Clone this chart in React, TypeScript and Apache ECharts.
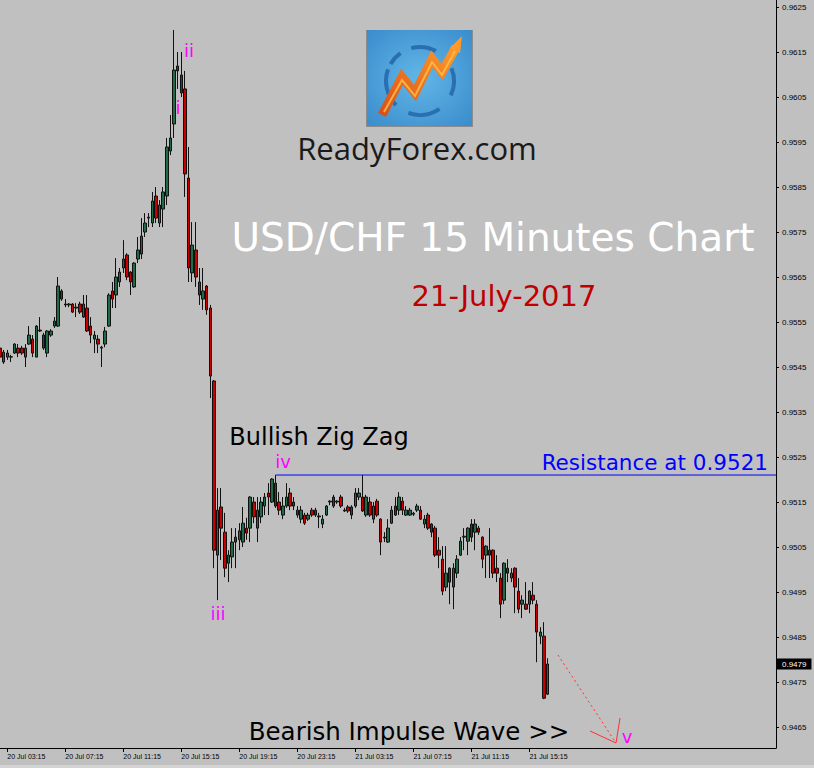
import React, { useEffect, useRef } from "react";
import * as echarts from "echarts";

// ---- categories (15-minute bars starting 20 Jul 02:45) ----
const START_DAY = 20;
const START_MIN = 2 * 60 + 45;
const BAR_MIN = 15;
const TOTAL_SLOTS = 215;
const CATEGORIES: string[] = Array.from({ length: TOTAL_SLOTS }, (_, i) => {
  const t = START_MIN + BAR_MIN * i;
  const day = START_DAY + Math.floor(t / 1440);
  const m = t % 1440;
  const hh = String(Math.floor(m / 60)).padStart(2, "0");
  const mm = String(m % 60).padStart(2, "0");
  return `${day} Jul ${hh}:${mm}`;
});

const X_TICK_LABELS = [
  "20 Jul 03:15", "20 Jul 07:15", "20 Jul 11:15", "20 Jul 15:15", "20 Jul 19:15",
  "20 Jul 23:15", "21 Jul 03:15", "21 Jul 07:15", "21 Jul 11:15", "21 Jul 15:15",
];

const Y_TICK_VALUES = [
  0.9465, 0.9475, 0.9485, 0.9495, 0.9505, 0.9515, 0.9525, 0.9535, 0.9545,
  0.9555, 0.9565, 0.9575, 0.9585, 0.9595, 0.9605, 0.9615, 0.9625,
];
const Y_MIN = 0.946034;
const Y_MAX = 0.962656;

const RESISTANCE = 0.9521;
const RESISTANCE_START = "20 Jul 21:45";
const LAST_PRICE = 0.9479;

// ---- OHLC: [open, close, low, high] ----
const CANDLES: number[][] = [
  [0.95492, 0.95472, 0.95466, 0.95497],
  [0.95461, 0.95483, 0.95457, 0.95488],
  [0.95472, 0.95481, 0.95466, 0.95488],
  [0.95472, 0.95473, 0.95461, 0.95477],
  [0.95481, 0.95501, 0.95479, 0.95503],
  [0.95492, 0.95481, 0.95472, 0.95501],
  [0.95492, 0.95481, 0.95477, 0.95497],
  [0.95472, 0.95492, 0.9545, 0.95501],
  [0.95501, 0.95521, 0.95499, 0.95541],
  [0.95512, 0.95481, 0.95472, 0.95521],
  [0.95472, 0.95541, 0.95472, 0.95543],
  [0.95532, 0.9553, 0.95528, 0.95561],
  [0.95521, 0.95492, 0.95488, 0.95526],
  [0.95481, 0.9553, 0.95472, 0.95532],
  [0.95521, 0.9553, 0.95517, 0.95534],
  [0.95541, 0.95552, 0.95537, 0.95561],
  [0.95541, 0.9563, 0.95539, 0.9565],
  [0.95619, 0.95601, 0.95597, 0.95623],
  [0.9559, 0.95588, 0.95583, 0.95601],
  [0.95588, 0.9559, 0.95583, 0.95592],
  [0.9559, 0.95572, 0.9557, 0.95592],
  [0.95583, 0.95581, 0.95561, 0.95592],
  [0.9559, 0.95572, 0.95568, 0.95595],
  [0.95561, 0.9559, 0.95559, 0.9561],
  [0.95581, 0.9553, 0.95528, 0.9561],
  [0.95541, 0.95521, 0.95503, 0.95561],
  [0.95512, 0.95521, 0.95481, 0.9553],
  [0.95512, 0.95501, 0.95481, 0.95521],
  [0.95492, 0.95494, 0.9545, 0.95497],
  [0.95501, 0.9553, 0.95494, 0.95539],
  [0.95541, 0.9561, 0.95539, 0.95614],
  [0.95619, 0.95601, 0.95581, 0.95639],
  [0.9561, 0.9565, 0.95581, 0.95692],
  [0.95639, 0.95661, 0.95628, 0.9567],
  [0.9567, 0.9569, 0.95659, 0.95732],
  [0.95699, 0.9565, 0.95643, 0.95703],
  [0.95661, 0.95639, 0.9561, 0.95663],
  [0.95628, 0.95681, 0.95626, 0.95683],
  [0.9569, 0.9571, 0.95681, 0.95739],
  [0.95701, 0.95741, 0.9569, 0.95781],
  [0.9575, 0.9577, 0.95739, 0.95792],
  [0.95781, 0.95783, 0.95761, 0.95792],
  [0.9577, 0.95819, 0.95761, 0.95839],
  [0.9583, 0.95781, 0.9577, 0.9585],
  [0.9577, 0.9581, 0.95761, 0.95821],
  [0.95801, 0.95839, 0.95761, 0.9585],
  [0.9583, 0.95939, 0.9581, 0.95959],
  [0.9593, 0.95959, 0.95921, 0.9601],
  [0.9599, 0.9611, 0.95959, 0.96199],
  [0.96119, 0.96108, 0.96068, 0.9615],
  [0.96099, 0.96059, 0.9605, 0.9615],
  [0.96068, 0.95879, 0.95828, 0.96108],
  [0.9587, 0.9567, 0.95639, 0.95939],
  [0.95659, 0.95721, 0.95639, 0.95772],
  [0.9571, 0.9565, 0.95628, 0.95772],
  [0.95639, 0.9561, 0.95588, 0.9567],
  [0.95601, 0.95619, 0.95577, 0.9567],
  [0.9563, 0.95577, 0.95566, 0.95632],
  [0.95581, 0.9543, 0.95381, 0.95588],
  [0.95419, 0.95043, 0.95003, 0.95421],
  [0.95032, 0.95132, 0.94932, 0.95181],
  [0.95139, 0.95092, 0.95021, 0.95181],
  [0.95083, 0.95003, 0.94983, 0.95126],
  [0.95014, 0.95032, 0.94972, 0.95043],
  [0.95028, 0.95061, 0.95003, 0.95092],
  [0.95072, 0.95061, 0.95003, 0.95092],
  [0.95066, 0.95086, 0.95043, 0.95103],
  [0.95061, 0.95103, 0.9505, 0.95139],
  [0.95092, 0.95081, 0.95066, 0.95115],
  [0.95092, 0.95161, 0.95061, 0.95163],
  [0.9515, 0.95117, 0.95103, 0.95161],
  [0.95092, 0.95132, 0.95061, 0.95161],
  [0.95117, 0.9515, 0.95103, 0.95161],
  [0.95141, 0.95161, 0.95121, 0.9517],
  [0.9517, 0.95161, 0.95121, 0.95192],
  [0.9515, 0.95201, 0.95148, 0.95203],
  [0.95192, 0.95141, 0.95137, 0.9521],
  [0.9515, 0.95132, 0.95121, 0.95172],
  [0.95121, 0.95141, 0.95112, 0.95161],
  [0.95141, 0.95161, 0.95137, 0.95192],
  [0.9517, 0.95141, 0.95132, 0.95181],
  [0.9515, 0.95141, 0.95132, 0.95161],
  [0.95132, 0.95121, 0.95115, 0.95141],
  [0.95112, 0.95132, 0.95103, 0.95141],
  [0.95121, 0.95103, 0.95099, 0.95126],
  [0.95112, 0.95121, 0.95108, 0.95126],
  [0.95132, 0.95121, 0.95117, 0.95137],
  [0.95132, 0.95121, 0.95117, 0.95137],
  [0.95117, 0.95119, 0.95092, 0.95126],
  [0.95101, 0.95112, 0.95092, 0.95121],
  [0.95121, 0.95141, 0.95119, 0.95143],
  [0.9515, 0.95152, 0.95143, 0.95154],
  [0.95161, 0.95141, 0.95137, 0.95166],
  [0.95152, 0.9515, 0.95146, 0.95154],
  [0.95161, 0.95141, 0.95137, 0.95166],
  [0.95132, 0.9513, 0.95128, 0.95137],
  [0.95139, 0.9513, 0.95126, 0.95143],
  [0.95139, 0.95121, 0.95112, 0.95143],
  [0.95141, 0.9517, 0.95137, 0.95181],
  [0.95161, 0.9517, 0.95154, 0.95181],
  [0.95161, 0.9513, 0.95128, 0.9521],
  [0.95121, 0.95161, 0.95117, 0.95166],
  [0.9515, 0.95121, 0.95117, 0.95161],
  [0.95112, 0.95141, 0.95103, 0.9515],
  [0.95152, 0.95121, 0.95117, 0.95157],
  [0.95112, 0.95061, 0.95032, 0.95114],
  [0.95072, 0.9507, 0.95061, 0.95083],
  [0.95061, 0.95092, 0.95059, 0.95112],
  [0.95103, 0.95132, 0.95101, 0.95141],
  [0.95141, 0.95121, 0.95119, 0.95161],
  [0.95132, 0.95161, 0.95121, 0.95172],
  [0.95152, 0.95132, 0.95121, 0.95161],
  [0.95121, 0.95132, 0.95119, 0.95141],
  [0.95121, 0.95132, 0.95119, 0.95137],
  [0.95123, 0.95125, 0.95119, 0.95128],
  [0.95132, 0.95141, 0.95128, 0.95146],
  [0.95132, 0.95112, 0.9511, 0.95141],
  [0.95101, 0.95112, 0.95092, 0.95121],
  [0.95121, 0.95092, 0.95088, 0.95126],
  [0.95101, 0.95083, 0.95072, 0.95103],
  [0.95092, 0.95032, 0.95028, 0.95097],
  [0.95043, 0.95032, 0.95003, 0.95072],
  [0.95023, 0.94952, 0.94943, 0.95052],
  [0.94961, 0.94992, 0.94952, 0.95052],
  [0.95003, 0.94972, 0.94923, 0.95005],
  [0.94961, 0.95003, 0.94912, 0.95014],
  [0.94992, 0.95023, 0.94981, 0.95032],
  [0.95032, 0.95063, 0.9503, 0.95072],
  [0.95072, 0.95074, 0.95043, 0.95092],
  [0.95063, 0.95092, 0.95032, 0.95094],
  [0.95101, 0.95072, 0.95061, 0.95112],
  [0.95083, 0.95101, 0.95043, 0.95112],
  [0.95092, 0.95083, 0.95077, 0.95097],
  [0.95072, 0.95023, 0.95003, 0.95074],
  [0.95032, 0.95052, 0.94981, 0.95054],
  [0.95043, 0.95032, 0.94981, 0.95092],
  [0.95043, 0.94992, 0.94981, 0.95045],
  [0.95003, 0.94992, 0.94972, 0.95032],
  [0.94981, 0.94923, 0.94892, 0.94992],
  [0.94932, 0.95014, 0.94923, 0.95016],
  [0.95003, 0.94992, 0.94972, 0.95023],
  [0.94981, 0.94992, 0.94972, 0.95003],
  [0.95003, 0.94961, 0.94903, 0.95005],
  [0.94952, 0.94912, 0.94903, 0.94981],
  [0.94923, 0.94932, 0.94892, 0.94943],
  [0.94923, 0.94912, 0.9491, 0.94972],
  [0.94923, 0.94952, 0.94903, 0.94954],
  [0.94943, 0.94932, 0.94923, 0.94972],
  [0.94923, 0.94861, 0.94794, 0.94932],
  [0.94852, 0.94861, 0.94834, 0.94872],
  [0.94852, 0.94714, 0.94712, 0.94883],
  [0.94723, 0.9479, 0.94721, 0.94803],
];

const BG = "#c0c0c0";
const SANS = '"DejaVu Sans"';
const LAST_CAT = CATEGORIES[TOTAL_SLOTS - 1];

function label(text: string, x: number, y: number, size: number, fill: string, family = SANS) {
  return {
    type: "text",
    x,
    y,
    silent: true,
    style: { text, fill, fontSize: size, fontFamily: family, align: "center", verticalAlign: "middle" },
  };
}

export default function App() {
  const ref = useRef<HTMLDivElement>(null);

  useEffect(() => {
    if (!ref.current) return;
    const chart = echarts.init(ref.current, undefined, { renderer: "svg" });

    const ring = (a0: number, a1: number) => ({
      type: "arc",
      shape: { cx: 420, cy: 81, r: 34, startAngle: (a0 * Math.PI) / 180, endAngle: (a1 * Math.PI) / 180 },
      style: { stroke: "#2a6fb0", lineWidth: 4, fill: "none" },
    });

    const logo = {
      type: "group",
      silent: true,
      children: [
        { type: "rect", shape: { x: 366, y: 30, width: 107, height: 97 }, style: { fill: "#8c8c8c" } },
        {
          type: "rect",
          shape: { x: 367, y: 30, width: 105, height: 96 },
          style: {
            fill: new echarts.graphic.RadialGradient(0.5, 0.5, 0.7, [
              { offset: 0, color: "#62b6e6" },
              { offset: 1, color: "#3a8ccc" },
            ]),
          },
        },
        ring(135, 200),
        ring(55, 110),
        ring(-22, 25),
        ring(-105, -62),
        ring(-150, -125),
        {
          type: "polyline",
          shape: { points: [[382, 115], [402, 77], [415, 93], [432, 59], [442, 72], [456, 47]] },
          style: {
            stroke: new echarts.graphic.LinearGradient(0, 1, 1, 0, [
              { offset: 0, color: "#d9501a" },
              { offset: 1, color: "#ff9a2a" },
            ]),
            lineWidth: 9,
            lineJoin: "miter",
            fill: "none",
          },
        },
        { type: "polygon", shape: { points: [[450, 48], [462, 36], [460, 53]] }, style: { fill: "#ff9a2a" } },
        {
          type: "polyline",
          shape: { points: [[384, 112], [402, 80], [415, 96], [432, 62], [442, 75], [455, 51]] },
          style: { stroke: "#ffc24a", lineWidth: 2, fill: "none", opacity: 0.8 },
        },
      ],
    };

    const option: any = {
      animation: false,
      backgroundColor: BG,
      grid: { left: 0, right: 38, top: 0, bottom: 20, containLabel: false },
      xAxis: {
        type: "category",
        data: CATEGORIES,
        boundaryGap: false,
        axisLine: { show: true, lineStyle: { color: "#000", width: 1 } },
        axisTick: {
          show: true,
          length: 4,
          lineStyle: { color: "#000" },
          interval: (_i: number, v: string) => X_TICK_LABELS.includes(v),
        },
        axisLabel: {
          show: true,
          interval: (_i: number, v: string) => X_TICK_LABELS.includes(v),
          align: "left",
          fontSize: 7,
          fontFamily: '"Liberation Sans"',
          color: "#000",
          margin: 5,
          hideOverlap: false,
        },
        splitLine: { show: false },
      },
      yAxis: {
        type: "value",
        position: "right",
        min: Y_MIN,
        max: Y_MAX,
        axisLine: { show: true, lineStyle: { color: "#000", width: 1 } },
        axisTick: { show: true, length: 3, lineStyle: { color: "#000" }, customValues: Y_TICK_VALUES },
        axisLabel: {
          show: true,
          customValues: Y_TICK_VALUES,
          formatter: (v: number) => v.toFixed(4),
          fontSize: 8,
          fontFamily: '"Liberation Sans"',
          color: "#000",
          margin: 6,
        },
        splitLine: { show: false },
      },
      series: [
        {
          type: "candlestick",
          data: CANDLES,
          barWidth: 3,
          itemStyle: {
            color: "#1f6b47",
            color0: "#c80000",
            borderColor: "#111",
            borderColor0: "#111",
            borderColorDoji: "#111",
            borderWidth: 1,
          },
        },
        {
          type: "line",
          silent: true,
          data: [
            [RESISTANCE_START, RESISTANCE],
            [LAST_CAT, RESISTANCE],
          ],
          symbol: "none",
          color: "#0000ff",
          lineStyle: { color: "#0000ff", width: 1, type: "solid" },
          markLine: {
            silent: true,
            animation: false,
            symbol: ["none", "none"],
            lineStyle: { color: "rgba(0,0,0,0)", width: 1 },
            data: [
              [
                {
                  coord: [RESISTANCE_START, RESISTANCE],
                  label: {
                    show: true,
                    position: "insideEndTop",
                    formatter: "Resistance at " + RESISTANCE.toFixed(4),
                    color: "#0000ff",
                    fontSize: 21.5,
                    fontFamily: SANS,
                    distance: [8, 2],
                  },
                },
                { coord: [LAST_CAT, RESISTANCE] },
              ],
              [
                {
                  coord: [CATEGORIES[0], LAST_PRICE],
                  label: {
                    show: true,
                    position: "end",
                    formatter: LAST_PRICE.toFixed(4),
                    backgroundColor: "#000",
                    color: "#fff",
                    fontSize: 8,
                    fontFamily: '"Liberation Sans"',
                    padding: [1, 5, 1, 5],
                    lineHeight: 9,
                    distance: 1,
                  },
                },
                { coord: [LAST_CAT, LAST_PRICE] },
              ],
            ],
          },
        },
      ],
      graphic: [
        { type: "rect", silent: true, shape: { x: 0, y: 765, width: 814, height: 3 }, style: { fill: "#d4d4d4" } },
        logo,
        label("ReadyForex.com", 417, 148, 31, "#1a1a1a", '"Open Sans"'),
        label("USD/CHF 15 Minutes Chart", 493, 237, 39, "#ffffff"),
        label("21-July-2017", 504, 296, 29, "#c00000"),
        label("Bullish Zig Zag", 319, 437, 24, "#000"),
        label("Bearish Impulse Wave >>", 409, 731, 24.5, "#000"),
        label("ii", 189, 50, 18, "#ff00ff"),
        label("i", 178, 107, 18, "#ff00ff"),
        label("iii", 218, 613, 18, "#ff00ff"),
        label("iv", 283, 461, 18, "#ff00ff"),
        label("v", 627, 736, 18, "#ff00ff"),
        {
          type: "line",
          silent: true,
          shape: { x1: 558, y1: 655, x2: 616, y2: 743 },
          style: { stroke: "#ff3030", lineWidth: 1, lineDash: [2, 3] },
        },
        { type: "line", silent: true, shape: { x1: 590, y1: 731, x2: 616, y2: 743 }, style: { stroke: "#ff3030", lineWidth: 1 } },
        { type: "line", silent: true, shape: { x1: 620, y1: 718, x2: 616, y2: 743 }, style: { stroke: "#ff3030", lineWidth: 1 } },
      ],
    };

    chart.setOption(option);
    return () => chart.dispose();
  }, []);

  return (
    <div
      ref={ref}
      style={{ position: "absolute", left: 0, top: 0, width: 814, height: 768, background: BG }}
    />
  );
}
